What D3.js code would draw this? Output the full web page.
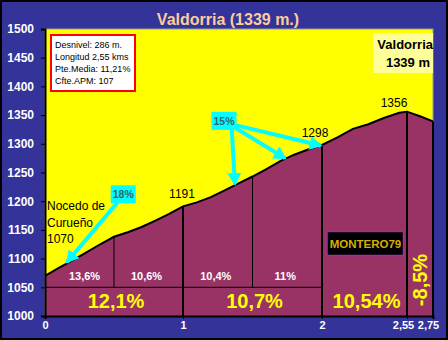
<!DOCTYPE html>
<html>
<head>
<meta charset="utf-8">
<script src="https://cdn.jsdelivr.net/npm/d3@7/dist/d3.min.js"></script>
<style>
  html, body { margin: 0; padding: 0; background: #333399; }
  svg { display: block; font-family: "Liberation Sans", Arial, sans-serif; }
</style>
</head>
<body>
<svg id="chart" width="448" height="340"></svg>
<script>
// ---- data ----
const title = "Valdorria (1339 m.)";
const distances  = [0, 0.1, 0.2, 0.3, 0.4, 0.5, 0.6, 0.7, 0.8, 0.9, 1.0, 1.1, 1.2, 1.3, 1.4, 1.5, 1.6, 1.7, 1.8, 1.9, 2.0, 2.1, 2.2, 2.3, 2.4, 2.5, 2.55, 2.65, 2.75];
const elevations = [1070, 1084, 1097, 1111, 1125, 1138, 1146, 1155, 1166, 1178, 1191, 1198, 1207, 1219, 1231, 1243, 1256, 1270, 1281, 1290, 1298, 1311, 1326, 1334, 1345, 1354, 1356, 1348, 1339];
const yTicks = [1000, 1050, 1100, 1150, 1200, 1250, 1300, 1350, 1400, 1450, 1500];
const xTicks = [0, 1, 2, 2.55, 2.75];
const xTickLabels = ["0", "1", "2", "2,55", "2,75"];
const halfStart = [0, 0.5, 1, 1.5];
const halfEnd   = [0.5, 1, 1.5, 2];
const halfGrades = ["13,6%", "10,6%", "10,4%", "11%"];
const kmStart = [0, 1, 2];
const kmEnd   = [1, 2, 2.55];
const kmGrades = ["12,1%", "10,7%", "10,54%"];
const descentStart = 2.55, descentEnd = 2.75, descentGrade = "-8,5%";
const peakKm = [1, 2, 2.55];
const peakElev = [1191, 1298, 1356];
const peakLabels = ["1191", "1298", "1356"];
const startLabel = ["Nocedo de", "Curueño", "1070"];
const infoLines = ["Desnivel: 286 m.", "Longitud 2,55 kms", "Pte.Media: 11,21%", "Cfte.APM: 107"];
const summitLines = ["Valdorria", "1339 m"];
const author = "MONTERO79";
// callouts: label, box centre (km, elev), arrow origin (km, elev), targets (km, elev)
const calloutLabels = ["18%", "15%"];
const calloutBox = [[0.567, 1212], [1.295, 1340]];
const calloutFrom = [[[0.54, 1202]], [[1.35, 1327], [1.36, 1330], [1.37, 1333]]];
const calloutTo = [[[0.16, 1094]], [[1.374, 1230], [1.734, 1275], [1.99, 1297]]];

// ---- scales ----
const svg = d3.select("#chart");
const W = 448, H = 340;
const x = d3.scaleLinear().domain([0, 1, 2, 2.55, 2.75]).range([45, 183, 322, 407, 433]);
const y = d3.scaleLinear().domain([1000, 1500]).range([316, 29]);
const profile = distances.map((d, i) => [d, elevations[i]]);
const elevAt = d3.scaleLinear().domain(distances).range(elevations);

// background + border
svg.append("rect").attr("x", 1).attr("y", 1).attr("width", W - 2).attr("height", H - 2)
  .attr("fill", "#333399").attr("stroke", "#000").attr("stroke-width", 2);

// plot area
svg.append("rect").attr("x", x(0)).attr("y", y(1500)).attr("width", x(2.75) - x(0)).attr("height", y(1000) - y(1500))
  .attr("fill", "#FFFF00").attr("stroke", "#9a9a9a").attr("stroke-width", 1);

// area
const area = d3.area().x(d => x(d[0])).y0(y(1000)).y1(d => y(d[1]));
svg.append("path").datum(profile).attr("d", area).attr("fill", "#993366");

// horizontal divider at 1050
svg.append("line").attr("x1", x(0)).attr("x2", x(2)).attr("y1", y(1050)).attr("y2", y(1050))
  .attr("stroke", "#000").attr("stroke-width", 1);

// thin half-km dividers
[0.5, 1.5].forEach(k => {
  svg.append("line").attr("x1", x(k)).attr("x2", x(k)).attr("y1", y(elevAt(k))).attr("y2", y(1050))
    .attr("stroke", "#000").attr("stroke-width", 1);
});
// thick km dividers
[1, 2, 2.55, 2.75].forEach(k => {
  svg.append("line").attr("x1", x(k)).attr("x2", x(k)).attr("y1", y(elevAt(k))).attr("y2", y(1000))
    .attr("stroke", "#000").attr("stroke-width", 2);
});

// profile line
svg.append("path").datum(profile).attr("d", d3.line().x(d => x(d[0])).y(d => y(d[1])))
  .attr("fill", "none").attr("stroke", "#000").attr("stroke-width", 2);

// axes
const yAxis = svg.append("g").attr("transform", `translate(${x(0)},0)`)
  .call(d3.axisLeft(y).tickValues(yTicks).tickSize(4).tickPadding(7).tickFormat(d3.format("d")));
yAxis.select(".domain").attr("stroke", "#000").attr("stroke-width", 2);
yAxis.selectAll(".tick line").attr("stroke", "#000").attr("stroke-width", 1);
yAxis.selectAll("text").attr("fill", "#fff").attr("font-size", 12).attr("font-weight", "bold")
  .attr("font-family", "Liberation Sans, Arial, sans-serif");

const xAxis = svg.append("g").attr("transform", `translate(0,${y(1000)})`)
  .call(d3.axisBottom(x).tickValues(xTicks).tickSize(3).tickPadding(2).tickFormat((d, i) => xTickLabels[i]));
xAxis.select(".domain").attr("stroke", "#000").attr("stroke-width", 2);
xAxis.selectAll(".tick line").attr("stroke", "#000");
xAxis.selectAll("text").attr("fill", "#fff").attr("font-size", 11).attr("font-weight", "bold")
  .attr("font-family", "Liberation Sans, Arial, sans-serif")
  .attr("dx", (d, i) => i === 3 ? -4 : (i === 4 ? -5 : 0));

// half-km grade labels
halfGrades.forEach((g, i) => {
  svg.append("text").attr("x", (x(halfStart[i]) + x(halfEnd[i])) / 2 + (i === 0 ? 5 : -2)).attr("y", y(1050) - 7)
    .attr("text-anchor", "middle").attr("fill", "#fff").attr("font-size", 11).attr("font-weight", "bold").text(g);
});
// km grade labels
kmGrades.forEach((g, i) => {
  svg.append("text").attr("x", (x(kmStart[i]) + x(kmEnd[i])) / 2 + 2).attr("y", y(1000) - 8)
    .attr("text-anchor", "middle").attr("fill", "#FFFF00").attr("font-size", 20).attr("font-weight", "bold").text(g);
});
// descent label rotated
svg.append("text")
  .attr("transform", `translate(${(x(descentStart) + x(descentEnd)) / 2 + 7},${y(1000) - 36}) rotate(-90)`)
  .attr("text-anchor", "middle").attr("fill", "#FFFF00").attr("font-size", 20).attr("font-weight", "bold").text(descentGrade);

// peak labels
const peakDx = [-1, -7, -13], peakDy = [-8, -8, -5];
peakLabels.forEach((t, i) => {
  svg.append("text").attr("x", x(peakKm[i]) + peakDx[i]).attr("y", y(peakElev[i]) + peakDy[i])
    .attr("text-anchor", "middle").attr("fill", "#000").attr("font-size", 12).text(t);
});

// start label
startLabel.forEach((t, i) => {
  svg.append("text").attr("x", x(0) + 2).attr("y", 210 + i * 16.5)
    .attr("fill", "#000").attr("font-size", 12).text(t);
});

// callouts
const defs = svg.append("defs");
defs.append("marker").attr("id", "ah").attr("markerUnits", "userSpaceOnUse")
  .attr("markerWidth", 14).attr("markerHeight", 14).attr("refX", 11).attr("refY", 7).attr("orient", "auto")
  .append("path").attr("d", "M0,0 L13,7 L0,14 Z").attr("fill", "#00FFFF");
calloutLabels.forEach((lab, i) => {
  calloutTo[i].forEach((t, j) => {
    const f = calloutFrom[i][j];
    svg.append("line").attr("x1", x(f[0])).attr("y1", y(f[1])).attr("x2", x(t[0])).attr("y2", y(t[1]))
      .attr("stroke", "#00FFFF").attr("stroke-width", 4).attr("marker-end", "url(#ah)");
  });
  const cx = x(calloutBox[i][0]), cy = y(calloutBox[i][1]);
  svg.append("rect").attr("x", cx - 12.5).attr("y", cy - 9).attr("width", 25).attr("height", 18).attr("fill", "#00FFFF");
  svg.append("text").attr("x", cx).attr("y", cy + 4).attr("text-anchor", "middle")
    .attr("fill", "#336666").attr("font-size", 10.5).attr("font-weight", "bold").text(lab);
});

// info box
svg.append("rect").attr("x", 51).attr("y", 35).attr("width", 84).attr("height", 56)
  .attr("fill", "#fff").attr("stroke", "#FF0000").attr("stroke-width", 2);
infoLines.forEach((t, i) => {
  svg.append("text").attr("x", 55).attr("y", 48 + i * 12).attr("fill", "#000").attr("font-size", 9).text(t);
});

// summit box
svg.append("rect").attr("x", 373).attr("y", 33).attr("width", 60).attr("height", 40).attr("fill", "#FFFF99");
summitLines.forEach((t, i) => {
  svg.append("text").attr("x", 433).attr("y", 49 + i * 17.5).attr("text-anchor", "end")
    .attr("dx", i === 1 ? -3 : 0)
    .attr("fill", "#000").attr("font-size", 13).attr("font-weight", "bold").text(t);
});

// author box
svg.append("rect").attr("x", 327).attr("y", 231.5).attr("width", 76.5).attr("height", 24)
  .attr("fill", "#000").attr("stroke", "#993399").attr("stroke-width", 1.5);
svg.append("text").attr("x", 365.5).attr("y", 248).attr("text-anchor", "middle")
  .attr("fill", "#D4B000").attr("font-size", 11.5).attr("font-weight", "bold").text(author);

// title
svg.append("text").attr("x", 228).attr("y", 25).attr("text-anchor", "middle")
  .attr("fill", "#FFCC99").attr("font-size", 16).attr("font-weight", "bold").text(title);
</script>
</body>
</html>
